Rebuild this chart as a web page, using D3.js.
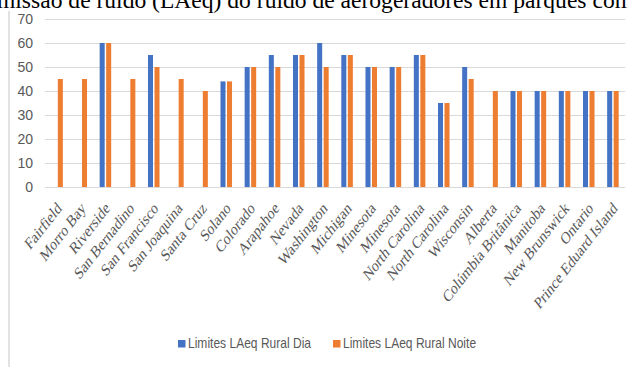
<!DOCTYPE html>
<html>
<head>
<meta charset="utf-8">
<script src="https://cdn.jsdelivr.net/npm/d3@7"></script>
<style>
  body { margin: 0; background: #fff; overflow: hidden; }
</style>
</head>
<body>
<div id="chart"></div>
<script>
// data
let sites = ["Fairfield", "Morro Bay", "Riverside", "San Bernadino", "San Francisco", "San Joaquina",
    "Santa Cruz", "Solano", "Colorado", "Arapahoe", "Nevada", "Washington", "Michigan", "Minesota",
    "Minesota", "North Carolina", "North Carolina", "Wisconsin", "Alberta", "Colúmbia Britânica",
    "Manitoba", "New Brunswick", "Ontario", "Prince Eduard Island"];
let ruralDia = [null, null, 60, null, 55, null, null, 44, 50, 55, 55, 60, 55, 50, 50, 55, 35, 50,
    null, 40, 40, 40, 40, 40];
let ruralNoite = [45, 45, 60, 45, 50, 45, 40, 44, 50, 50, 55, 50, 55, 50, 50, 55, 35, 45,
    40, 40, 40, 40, 40, 40];
let seriesNames = ["Limites LAeq Rural Dia", "Limites LAeq Rural Noite"];
let yTicks = [0, 10, 20, 30, 40, 50, 60, 70];
let titleText = "missão de ruído (LAeq) do ruído de aerogeradores em parques com";

let color = ["#4472C4", "#ED7D31"];

let W = 628, H = 367;
let plot = {left: 45, right: 625, top: 19, bottom: 187};

let svg = d3.select("#chart").append("svg")
    .attr("width", W)
    .attr("height", H);

// cut-off title at the very top
svg.append("text")
    .attr("x", -3)
    .attr("y", 8)
    .attr("textLength", 636)
    .attr("lengthAdjust", "spacingAndGlyphs")
    .style("font-family", "'Liberation Serif', 'Times New Roman', serif")
    .style("font-size", "23px")
    .attr("fill", "#000")
    .text(titleText);

// chart frame left edge
svg.append("line")
    .attr("x1", 9).attr("x2", 9)
    .attr("y1", 11).attr("y2", H)
    .attr("stroke", "#d9d9d9")
    .attr("stroke-width", 1.5);

// scales
let x0 = d3.scaleBand()
    .domain(d3.range(sites.length))
    .range([plot.left, plot.right])
    .padding(0);
let x1 = d3.scaleBand()
    .domain([0, 1])
    .range([0, x0.bandwidth()])
    .paddingInner(0.23)
    .paddingOuter(0.97);
let y = d3.scaleLinear()
    .domain([0, 70])
    .range([plot.bottom, plot.top]);

// gridlines
svg.append("g")
    .selectAll("line")
    .data(yTicks)
    .enter().append("line")
    .attr("x1", plot.left)
    .attr("x2", plot.right)
    .attr("y1", d => Math.round(y(d)) + 0.5)
    .attr("y2", d => Math.round(y(d)) + 0.5)
    .attr("stroke", "#d9d9d9")
    .attr("stroke-width", 1.2);

// y axis labels
let yAxis = svg.append("g")
    .attr("transform", "translate(" + (plot.left - 12) + ",0)")
    .call(d3.axisLeft(y).tickValues(yTicks).tickSize(0).tickPadding(0));
yAxis.select(".domain").remove();
yAxis.selectAll("text")
    .attr("fill", "#595959")
    .style("font-family", "'Liberation Sans', Arial, sans-serif")
    .style("font-size", "14px");

// bars
let rows = sites.map((s, i) => ({i: i, vals: [ruralDia[i], ruralNoite[i]]}));
let groups = svg.append("g")
    .selectAll("g")
    .data(rows)
    .enter().append("g")
    .attr("transform", d => "translate(" + x0(d.i) + ",0)");

groups.selectAll("rect")
    .data(d => d.vals.map((v, k) => ({k: k, v: v})).filter(e => e.v !== null))
    .enter().append("rect")
    .attr("x", d => x1(d.k))
    .attr("width", x1.bandwidth())
    .attr("y", d => y(d.v))
    .attr("height", d => y(0) - y(d.v))
    .attr("fill", d => color[d.k]);

// x labels, rotated
svg.append("g")
    .selectAll("text")
    .data(sites)
    .enter().append("text")
    .attr("transform", (d, i) => "translate(" + (x0(i) + x0.bandwidth() / 2 + 2) + "," + (plot.bottom + 18) + ") scale(0.78,1) rotate(-45)")
    .attr("text-anchor", "end")
    .attr("dy", "0.35em")
    .attr("fill", "#595959")
    .style("font-family", "'Liberation Serif', 'Times New Roman', serif")
    .style("font-size", "17px")
    .text(d => d);

// legend
let legendX = [178, 333];
let legend = svg.append("g")
    .selectAll("g")
    .data(seriesNames)
    .enter().append("g")
    .attr("transform", (d, i) => "translate(" + legendX[i] + ",340)");
legend.append("rect")
    .attr("width", 7.5)
    .attr("height", 7.5)
    .attr("fill", (d, i) => color[i]);
legend.append("text")
    .attr("transform", "translate(10,8) scale(0.86,1)")
    .attr("fill", "#595959")
    .style("font-family", "'Liberation Sans', Arial, sans-serif")
    .style("font-size", "14px")
    .text(d => d);
</script>
</body>
</html>
